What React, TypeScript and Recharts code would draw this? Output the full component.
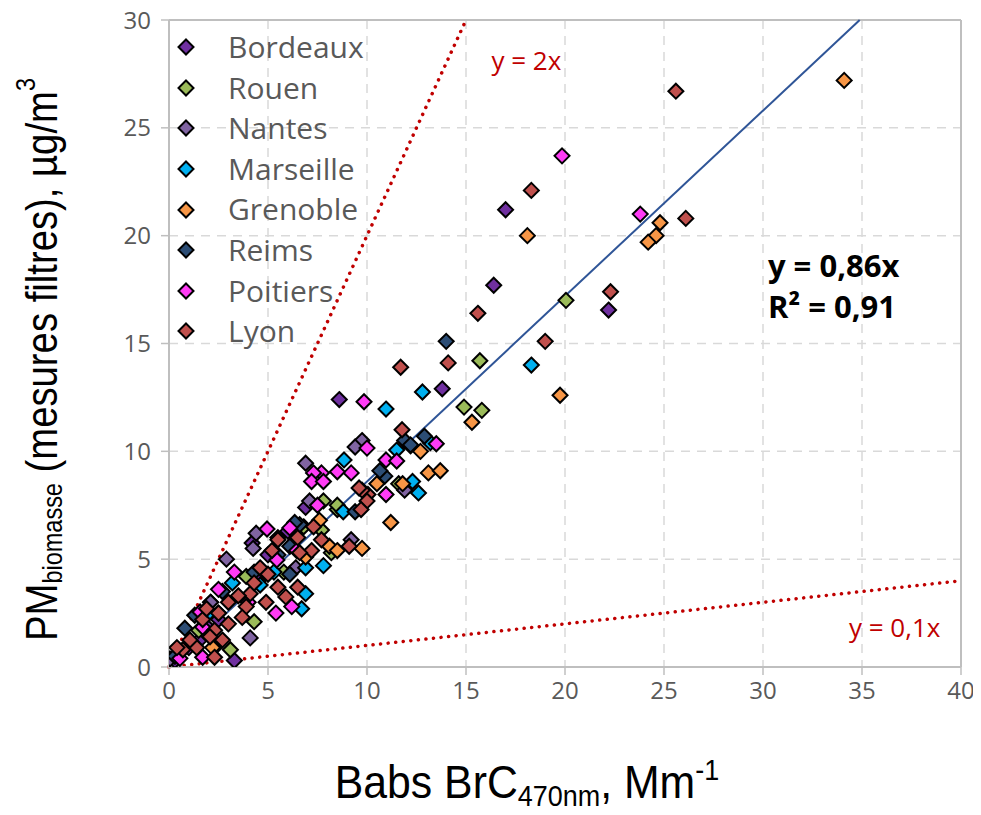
import React from 'react';
import {
  ScatterChart, Scatter, XAxis, YAxis, CartesianGrid, ReferenceLine, ReferenceDot, Legend,
} from 'recharts';

// ---------- DATA ----------
const X_TICKS = [0, 5, 10, 15, 20, 25, 30, 35, 40];
const Y_TICKS = [0, 5, 10, 15, 20, 25, 30];

const bordeaux: [number, number][] = [
  [17.0, 21.2], [16.4, 17.7], [22.2, 16.55], [13.8, 12.9], [8.6, 12.4], [6.9, 7.4], [4.2, 5.75],
  [3.3, 0.3], [5.0, 5.2], [2.0, 1.8], [1.0, 0.9], [0.3, 0.3], [4.5, 4.0], [2.5, 2.2], [6.0, 6.3], [1.5, 1.2],
];
const rouen: [number, number][] = [
  [20.05, 17.0], [15.7, 14.2], [14.9, 12.05], [15.8, 11.9], [11.6, 8.5], [8.5, 7.3], [7.8, 7.7],
  [7.7, 6.35], [8.2, 5.3], [3.9, 4.2], [4.3, 2.1], [3.1, 0.8], [5.8, 4.4], [1.5, 1.7], [6.8, 6.5],
  [8.5, 7.5], [2.1, 3.0],
];
const nantes: [number, number][] = [
  [9.75, 10.5], [9.4, 10.2], [6.9, 9.45], [11.9, 8.2], [7.1, 7.7], [4.4, 6.2], [4.25, 5.5], [2.9, 5.0],
  [6.4, 4.6], [4.1, 1.35], [0.05, 0.37], [9.2, 5.9], [5.5, 6.0], [2.5, 2.5], [2.1, 3.0],
];
const marseille: [number, number][] = [
  [18.3, 14.0], [12.8, 12.75], [10.96, 11.96], [13.2, 10.4], [12.2, 10.25], [11.5, 10.06], [8.84, 9.6],
  [12.3, 8.6], [12.6, 8.07], [8.8, 7.2], [6.9, 4.6], [7.8, 4.7], [6.9, 3.4], [6.7, 2.7], [3.2, 3.9],
  [5.3, 4.4], [2.0, 2.5], [1.3, 1.0], [4.6, 3.8], [2.3, 0.9],
];
const grenoble: [number, number][] = [
  [34.1, 27.2], [18.1, 20.0], [24.8, 20.6], [24.6, 20.0], [24.2, 19.7], [19.75, 12.6], [15.3, 11.35],
  [12.7, 10.0], [13.1, 9.0], [13.7, 9.1], [10.5, 8.5], [11.8, 8.5], [11.2, 6.7], [9.75, 5.5], [8.1, 5.6],
  [8.5, 5.4], [6.9, 5.1], [7.6, 6.8], [2.2, 0.9],
];
const reims: [number, number][] = [
  [14.0, 15.1], [12.9, 10.7], [10.9, 8.85], [10.65, 9.1], [9.4, 7.2], [6.6, 6.6], [6.35, 6.7], [6.1, 5.6],
  [6.1, 4.3], [2.7, 3.5], [1.3, 2.4], [0.8, 1.8], [0.3, 0.5], [4.3, 4.4], [5.5, 5.2], [11.9, 10.5], [12.2, 10.3],
];
const poitiers: [number, number][] = [
  [19.85, 23.7], [23.8, 21.0], [9.85, 12.3], [13.5, 10.35], [10.0, 10.15], [10.96, 9.6], [11.5, 9.55],
  [9.2, 9.0], [8.5, 9.05], [7.7, 9.0], [7.3, 9.0], [10.96, 8.0], [7.5, 7.5], [6.1, 6.45], [4.95, 6.4],
  [6.45, 5.4], [5.45, 4.96], [3.3, 4.4], [6.2, 2.8], [5.4, 2.5], [1.57, 2.55], [1.7, 1.85], [1.7, 0.45],
  [0.55, 0.4], [7.2, 8.6], [7.8, 8.6], [2.5, 3.6], [4.0, 3.0],
];
const lyon: [number, number][] = [
  [25.6, 26.7], [18.3, 22.1], [26.1, 20.8], [22.3, 17.4], [15.6, 16.4], [19.0, 15.1], [14.1, 14.1],
  [11.7, 13.9], [11.77, 11.0], [10.05, 8.0], [9.75, 8.2], [10.0, 7.7], [9.7, 7.3], [9.6, 8.3], [9.1, 5.6],
  [7.3, 6.5], [7.7, 5.9], [7.2, 5.4], [6.5, 6.0], [6.6, 5.3], [5.5, 5.9], [5.2, 5.4], [4.6, 4.6], [6.5, 3.7],
  [5.9, 3.25], [5.5, 3.7], [4.9, 3.0], [4.1, 3.4], [3.9, 2.8], [3.7, 2.3], [3.0, 3.0], [2.5, 2.5], [3.0, 2.0],
  [2.7, 1.25], [2.3, 1.7], [1.7, 2.2], [2.07, 1.4], [1.4, 0.9], [2.3, 0.45], [1.06, 1.25], [0.7, 0.8],
  [0.4, 0.9], [4.3, 3.9], [3.5, 3.3], [5.0, 4.3], [1.9, 2.7],
];

const SERIES = [
  { name: 'Bordeaux', color: '#7030A0', points: bordeaux },
  { name: 'Rouen', color: '#9BBB59', points: rouen },
  { name: 'Nantes', color: '#8064A2', points: nantes },
  { name: 'Marseille', color: '#00B0F0', points: marseille },
  { name: 'Grenoble', color: '#F79646', points: grenoble },
  { name: 'Reims', color: '#2C4D75', points: reims },
  { name: 'Poitiers', color: '#FF3BF5', points: poitiers },
  { name: 'Lyon', color: '#C0504D', points: lyon },
];

const SLOPE_FIT = 0.86;
const SLOPE_HIGH = 2;
const SLOPE_LOW = 0.1;
const X_MAX = 40;
const Y_MAX = 30;

// ---------- STYLE ----------
const TICK_FONT = "'Open Sans', sans-serif";
const TITLE_FONT = "'Liberation Sans', Arial, sans-serif";
const GRAY = '#595959';
const AXIS_GRAY = '#BFBFBF';

const Diamond = (props: any) => {
  const { cx, cy, fill } = props;
  if (cx == null || cy == null) return null;
  const r = 7.5;
  return (
    <path
      d={`M${cx},${cy - r}L${cx + r},${cy}L${cx},${cy + r}L${cx - r},${cy}Z`}
      fill={fill}
      stroke="#000"
      strokeWidth={2}
    />
  );
};

const LegendContent = () => (
  <div style={{ fontFamily: TICK_FONT, fontSize: 30, color: GRAY, lineHeight: '40.6px' }}>
    {SERIES.map((s) => (
      <div key={s.name} style={{ display: 'flex', alignItems: 'center', height: 40.6 }}>
        <svg width={20} height={20} style={{ marginRight: 32 }}>
          <path d="M10,2.5L17.5,10L10,17.5L2.5,10Z" fill={s.color} stroke="#000" strokeWidth={2} />
        </svg>
        <span>{s.name}</span>
      </div>
    ))}
  </div>
);

const YTitle = (props: any) => {
  const vb = props.viewBox;
  const cx = vb.x - 67;
  const cy = vb.y + vb.height / 2 + 16;
  return (
    <text
      x={0}
      y={0}
      transform={`translate(${cx}, ${cy}) rotate(-90) scale(0.87, 1)`}
      textAnchor="middle"
      dominantBaseline="central"
      fontFamily={TITLE_FONT}
      fontSize={44}
      fill="#000"
    >
      <tspan>PM</tspan>
      <tspan fontSize={27} dy={10}>biomasse</tspan>
      <tspan dy={-10}> (mesures filtres), µg/m</tspan>
      <tspan fontSize={27} dy={-17}>3</tspan>
    </text>
  );
};

const XTitle = (props: any) => {
  const vb = props.viewBox;
  const cx = vb.x + vb.width / 2 - 38;
  const cy = vb.y + 131;
  return (
    <text
      x={0}
      y={0}
      transform={`translate(${cx}, ${cy}) scale(0.93, 1)`}
      textAnchor="middle"
      fontFamily={TITLE_FONT}
      fontSize={46}
      fill="#000"
    >
      <tspan>Babs BrC</tspan>
      <tspan fontSize={29} dy={8}>470nm</tspan>
      <tspan dy={-8}>,  Mm</tspan>
      <tspan fontSize={29} dy={-18}>-1</tspan>
    </text>
  );
};

const textLabel = (value: string, color: string, size: number, bold: boolean, anchor: string) =>
  (p: any) => (
    <text
      x={p.viewBox.x}
      y={p.viewBox.y}
      textAnchor={anchor}
      dominantBaseline="central"
      fontFamily={TICK_FONT}
      fontSize={size}
      fontWeight={bold ? 700 : 400}
      fill={color}
    >
      {value}
    </text>
  );

export default function App() {
  return (
    <div style={{ margin: -8 }}>
      <ScatterChart
        width={981}
        height={815}
        margin={{ top: 20, right: 20, bottom: 88, left: 109 }}
      >
        <CartesianGrid stroke="#D9D9D9" strokeWidth={1.5} strokeDasharray="9 7" />
        <XAxis
          type="number"
          dataKey="x"
          domain={[0, X_MAX]}
          ticks={X_TICKS}
          height={60}
          allowDataOverflow
          stroke={AXIS_GRAY}
          axisLine={{ stroke: AXIS_GRAY, strokeWidth: 2 }}
          tickLine={{ stroke: AXIS_GRAY, strokeWidth: 1.5 }}
          tickSize={8}
          tickMargin={7}
          tick={{ fill: GRAY, fontSize: 24, fontFamily: TICK_FONT }}
          label={{ content: XTitle }}
        />
        <YAxis
          type="number"
          dataKey="y"
          domain={[0, Y_MAX]}
          ticks={Y_TICKS}
          width={60}
          allowDataOverflow
          stroke={AXIS_GRAY}
          axisLine={{ stroke: AXIS_GRAY, strokeWidth: 2 }}
          tickLine={{ stroke: AXIS_GRAY, strokeWidth: 1.5 }}
          tickSize={8}
          tickMargin={10}
          tick={{ fill: GRAY, fontSize: 24, fontFamily: TICK_FONT }}
          label={{ content: YTitle }}
        />
        <ReferenceLine x={X_MAX} stroke={AXIS_GRAY} strokeWidth={2} />
        <ReferenceLine y={Y_MAX} stroke={AXIS_GRAY} strokeWidth={2} />
        {SERIES.map((s) => (
          <Scatter
            key={s.name}
            name={s.name}
            data={s.points.map(([x, y]) => ({ x, y }))}
            fill={s.color}
            shape={Diamond}
            isAnimationActive={false}
          />
        ))}
        <ReferenceLine
          segment={[{ x: 0, y: 0 }, { x: Y_MAX / SLOPE_HIGH, y: Y_MAX }]}
          stroke="#C00000"
          strokeWidth={3.5}
          strokeDasharray="0.1 7.5"
          strokeLinecap="round"
        />
        <ReferenceLine
          segment={[{ x: 0, y: 0 }, { x: X_MAX, y: X_MAX * SLOPE_LOW }]}
          stroke="#C00000"
          strokeWidth={3.5}
          strokeDasharray="0.1 7.5"
          strokeLinecap="round"
        />
        <ReferenceLine
          segment={[{ x: 0, y: 0 }, { x: Y_MAX / SLOPE_FIT, y: Y_MAX }]}
          stroke="#2F5597"
          strokeWidth={2}
        />
        <ReferenceDot x={18.1} y={28.1} r={1} fill="none" stroke="none" label={{ content: textLabel('y = 2x', '#C00000', 26, false, 'middle') }} />
        <ReferenceDot x={36.7} y={1.8} r={1} fill="none" stroke="none" label={{ content: textLabel('y = 0,1x', '#C00000', 26, false, 'middle') }} />
        <ReferenceDot x={30.3} y={18.6} r={1} fill="none" stroke="none" label={{ content: textLabel('y = 0,86x', '#000', 31, true, 'start') }} />
        <ReferenceDot x={30.3} y={16.7} r={1} fill="none" stroke="none" label={{ content: textLabel('R² = 0,91', '#000', 31, true, 'start') }} />
        <Legend
          layout="horizontal"
          align="center"
          verticalAlign="middle"
          content={LegendContent}
          wrapperStyle={{ position: 'absolute', left: 176, top: 27, width: 'auto', height: 'auto' }}
        />
      </ScatterChart>
    </div>
  );
}
